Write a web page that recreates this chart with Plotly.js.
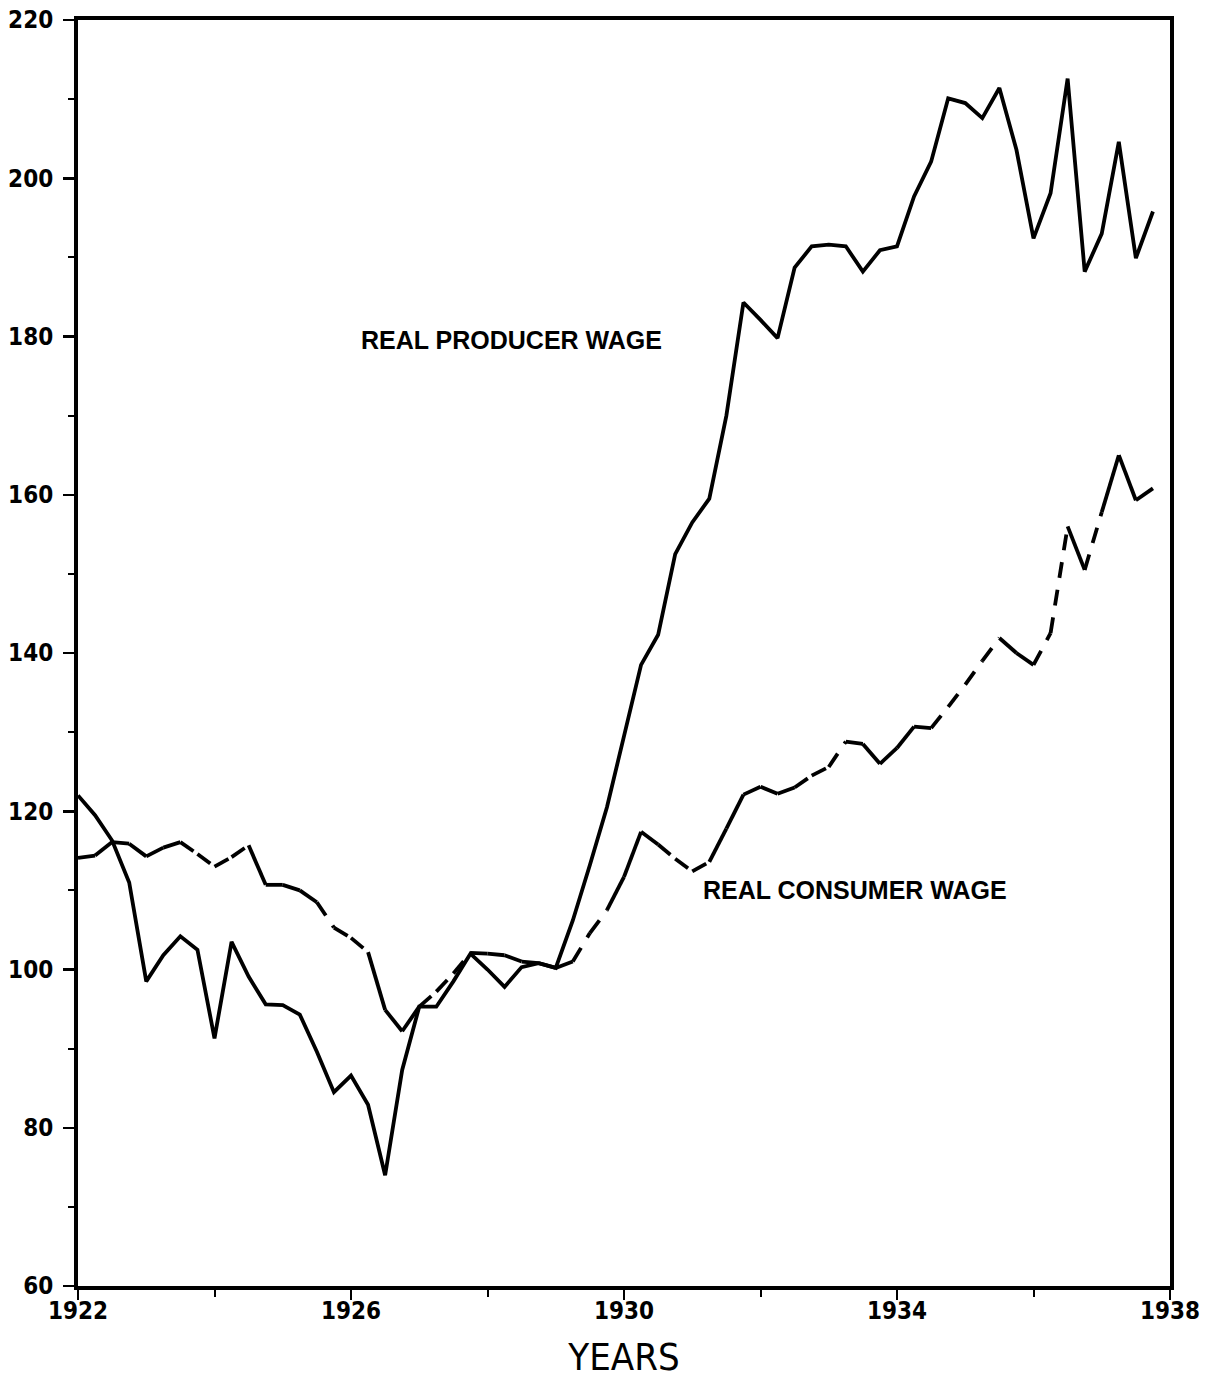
<!DOCTYPE html>
<html>
<head>
<meta charset="utf-8">
<script src="https://cdn.plot.ly/plotly-3.0.1.min.js"></script>
<style>
  html, body { margin: 0; padding: 0; background: #ffffff; }
  #chart { width: 1210px; height: 1379px; }
</style>
</head>
<body>
<div id="chart"></div>
<script>
// Quarterly observations, 1922 Q1 .. 1937 Q4
const quarters = [
  1922.00, 1922.25, 1922.50, 1922.75,
  1923.00, 1923.25, 1923.50, 1923.75,
  1924.00, 1924.25, 1924.50, 1924.75,
  1925.00, 1925.25, 1925.50, 1925.75,
  1926.00, 1926.25, 1926.50, 1926.75,
  1927.00, 1927.25, 1927.50, 1927.75,
  1928.00, 1928.25, 1928.50, 1928.75,
  1929.00, 1929.25, 1929.50, 1929.75,
  1930.00, 1930.25, 1930.50, 1930.75,
  1931.00, 1931.25, 1931.50, 1931.75,
  1932.00, 1932.25, 1932.50, 1932.75,
  1933.00, 1933.25, 1933.50, 1933.75,
  1934.00, 1934.25, 1934.50, 1934.75,
  1935.00, 1935.25, 1935.50, 1935.75,
  1936.00, 1936.25, 1936.50, 1936.75,
  1937.00, 1937.25, 1937.50, 1937.75
];

const realProducerWage = [
  122.0, 119.5, 116.3, 111.0,
   98.5, 101.8, 104.2, 102.5,
   91.3, 103.5,  99.1,  95.6,
   95.5,  94.3,  89.6,  84.5,
   86.6,  82.9,  74.0,  87.3,
   95.3,  95.3,  98.5, 102.0,
  100.0,  97.8, 100.3, 100.8,
  100.2, 106.2, 113.2, 120.5,
  129.5, 138.5, 142.3, 152.5,
  156.5, 159.5, 170.0, 184.3,
  182.1, 179.8, 188.7, 191.4,
  191.6, 191.4, 188.2, 190.9,
  191.4, 197.7, 202.1, 210.1,
  209.5, 207.6, 211.4, 203.6,
  192.4, 198.1, 212.6, 188.2,
  193.0, 204.6, 189.9, 195.8
];

const realConsumerWage = [
  114.1, 114.4, 116.1, 115.9,
  114.3, 115.4, 116.1, 114.6,
  113.0, 114.2, 115.7, 110.7,
  110.7, 110.0, 108.5, 105.3,
  104.0, 102.2,  94.9,  92.2,
   95.3,  97.2,  99.5, 102.1,
  102.0, 101.8, 101.0, 100.8,
  100.2, 101.0, 104.6, 107.5,
  111.7, 117.4, 115.8, 114.0,
  112.4, 113.6, 117.8, 122.1,
  123.1, 122.2, 123.0, 124.5,
  125.6, 128.8, 128.5, 126.0,
  128.0, 130.7, 130.5, 133.2,
  136.0, 139.0, 141.9, 140.0,
  138.5, 142.5, 156.0, 150.5,
  157.8, 165.0, 159.3, 160.8
];

// Stretches of the consumer-wage curve drawn broken (dashed) in the original
const consumerDashedSpans = [
  [1923.50, 1924.50], [1925.50, 1926.25], [1927.00, 1927.75],
  [1929.25, 1929.75], [1930.50, 1931.25], [1932.50, 1933.25],
  [1934.50, 1935.50], [1936.00, 1936.50], [1936.75, 1937.00]
];

const xTickVals = [1922, 1926, 1930, 1934, 1938];
const xTickText = ['1922', '1926', '1930', '1934', '1938'];
const yTickVals = [60, 80, 100, 120, 140, 160, 180, 200, 220];
const yTickText = ['60', '80', '100', '120', '140', '160', '180', '200', '220'];

// split consumer series into solid and dashed pieces (segment by segment)
function inDashed(a, b) {
  return consumerDashedSpans.some(s => a >= s[0] - 1e-9 && b <= s[1] + 1e-9);
}
const cSolidX = [], cSolidY = [], cDashX = [], cDashY = [];
for (let k = 0; k < quarters.length - 1; k++) {
  const tx = inDashed(quarters[k], quarters[k + 1]) ? [cDashX, cDashY] : [cSolidX, cSolidY];
  tx[0].push(quarters[k], quarters[k + 1], null);
  tx[1].push(realConsumerWage[k], realConsumerWage[k + 1], null);
}

const tickFamily = '"Liberation Sans Narrow", "DejaVu Sans Condensed", "Liberation Sans", Arial, sans-serif';

const traces = [
  {
    x: quarters, y: realProducerWage, type: 'scatter', mode: 'lines',
    name: 'REAL PRODUCER WAGE',
    line: { color: '#000000', width: 3.8 }
  },
  {
    x: cSolidX, y: cSolidY, type: 'scatter', mode: 'lines',
    name: 'REAL CONSUMER WAGE', connectgaps: false,
    line: { color: '#000000', width: 3.8 }
  },
  {
    x: cDashX, y: cDashY, type: 'scatter', mode: 'lines',
    name: 'REAL CONSUMER WAGE (broken)', connectgaps: false,
    line: { color: '#000000', width: 3.8, dash: '16px,12px' }
  }
];

const layout = {
  width: 1210, height: 1379,
  margin: { l: 78, r: 40, t: 20, b: 93, pad: 0 },
  paper_bgcolor: '#ffffff', plot_bgcolor: '#ffffff',
  showlegend: false,
  xaxis: {
    range: [1922, 1938],
    tickmode: 'array', tickvals: xTickVals, ticktext: xTickText,
    ticks: 'outside', ticklen: 10, tickwidth: 2.5, tickcolor: '#000',
    ticklabelstandoff: -10,
    minor: { tickvals: [1924, 1928, 1932, 1936], ticks: 'outside', ticklen: 7, tickwidth: 2, tickcolor: '#000' },
    showline: true, linewidth: 4, linecolor: '#000', mirror: true,
    showgrid: false, zeroline: false,
    tickfont: { family: tickFamily, size: 24, color: '#000', weight: 700 },
    title: { text: 'YEARS', standoff: 22,
      font: { family: tickFamily, size: 38, color: '#000' } }
  },
  yaxis: {
    range: [60, 220],
    tickmode: 'array', tickvals: yTickVals, ticktext: yTickText,
    ticks: 'outside', ticklen: 11, tickwidth: 2.5, tickcolor: '#000',
    ticklabelstandoff: 5,
    minor: { dtick: 10, tick0: 60, ticks: 'outside', ticklen: 6, tickwidth: 2, tickcolor: '#000' },
    showline: true, linewidth: 4, linecolor: '#000', mirror: true,
    showgrid: false, zeroline: false,
    tickfont: { family: tickFamily, size: 24, color: '#000', weight: 700 }
  },
  annotations: [
    {
      x: 1928.35, y: 179.6, xref: 'x', yref: 'y', showarrow: false,
      text: 'REAL PRODUCER WAGE',
      font: { family: '"Liberation Sans", Arial, sans-serif', size: 25, color: '#000', weight: 700 }
    },
    {
      x: 1933.38, y: 110.0, xref: 'x', yref: 'y', showarrow: false,
      text: 'REAL CONSUMER WAGE',
      font: { family: '"Liberation Sans", Arial, sans-serif', size: 25, color: '#000', weight: 700 }
    }
  ]
};

Plotly.newPlot('chart', traces, layout, { staticPlot: true, displayModeBar: false });
</script>
</body>
</html>
